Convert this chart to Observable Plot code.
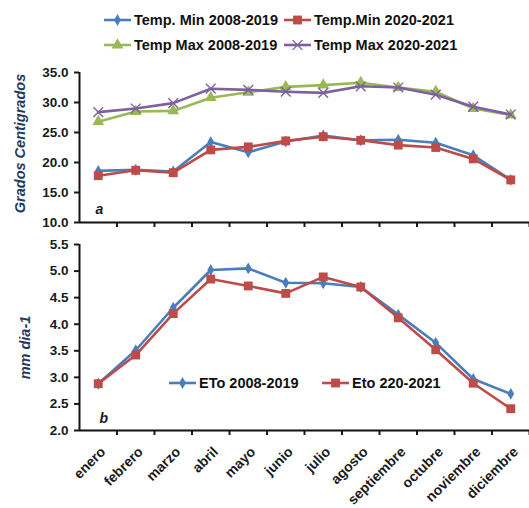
<!DOCTYPE html>
<html><head><meta charset="utf-8">
<script src="https://cdn.jsdelivr.net/npm/d3@7"></script>
<script src="https://cdn.jsdelivr.net/npm/@observablehq/plot@0.6"></script>
<style>
body{margin:0;background:#fff;font-family:"Liberation Sans",Arial,sans-serif;}
#wrap{position:relative;width:529px;height:508px;overflow:hidden;background:#fff}
.abs{position:absolute;left:0}
.leg{position:absolute;display:flex;align-items:center;font-weight:bold;font-size:14.5px;color:#111;white-space:nowrap}
.leg svg{margin-right:3px}
</style></head><body><div id="wrap"></div>
<script>
const months = ["enero","febrero","marzo","abril","mayo","junio","julio","agosto","septiembre","octubre","noviembre","diciembre"];
const tMin0819 = [18.6, 18.8, 18.5, 23.4, 21.7, 23.5, 24.5, 23.7, 23.8, 23.3, 21.2, 17.1];
const tMin2021 = [17.8, 18.7, 18.3, 22.1, 22.6, 23.6, 24.3, 23.7, 22.9, 22.5, 20.6, 17.1];
const tMax0819 = [26.8, 28.5, 28.6, 30.8, 31.7, 32.6, 32.9, 33.3, 32.5, 31.8, 29.0, 27.9];
const tMax2021 = [28.4, 29.0, 29.9, 32.3, 32.1, 31.8, 31.6, 32.7, 32.5, 31.3, 29.3, 28.0];
const eto0819 = [2.88, 3.51, 4.31, 5.02, 5.05, 4.78, 4.77, 4.70, 4.18, 3.65, 2.97, 2.69];
const eto2021 = [2.88, 3.42, 4.20, 4.85, 4.72, 4.58, 4.89, 4.70, 4.12, 3.52, 2.89, 2.41];
const tempTicks = [10, 15, 20, 25, 30, 35];
const etoTicks = [2.0, 2.5, 3.0, 3.5, 4.0, 4.5, 5.0, 5.5];

const COL = {blue:"#4a7ebb", red:"#be4b48", green:"#98b954", purple:"#7d60a0"};
const topSeries = [
  {name:"Temp. Min 2008-2019", values:tMin0819, color:COL.blue, symbol:"diamond", r:3.6, fill:true},
  {name:"Temp.Min 2020-2021", values:tMin2021, color:COL.red, symbol:"square", r:5, fill:true},
  {name:"Temp Max 2008-2019", values:tMax0819, color:COL.green, symbol:"triangle", r:4.4, fill:true},
  {name:"Temp Max 2020-2021", values:tMax2021, color:COL.purple, symbol:"times", r:4.5, fill:false}
];
const botSeries = [
  {name:"ETo 2008-2019", values:eto0819, color:COL.blue, symbol:"diamond", r:3.6, fill:true},
  {name:"Eto 220-2021", values:eto2021, color:COL.red, symbol:"square", r:5, fill:true}
];
const rows = s => s.values.map((v, i) => ({i: i + 0.5, v, month: months[i], series: s.name}));

function seriesMarks(list) {
  const out = [];
  for (const s of list) {
    const d = rows(s);
    out.push(Plot.line(d, {x:"i", y:"v", stroke:s.color, strokeWidth:2.6}));
    out.push(Plot.dot(d, s.fill
      ? {x:"i", y:"v", symbol:()=>s.symbol, r:s.r, fill:s.color, stroke:"none"}
      : {x:"i", y:"v", symbol:()=>s.symbol, r:s.r, stroke:s.color, strokeWidth:1.4, fill:"none"}));
  }
  return out;
}
const boundaries = d3.range(1, months.length + 1);
const centers = months.map((_, i) => i + 0.5);
const styleBase = {fontFamily:"'Liberation Sans', Arial, sans-serif", fontSize:"13.5px", fontWeight:"bold", color:"#1a1a1a", background:"#fff", overflow:"visible"};

const wrap = document.getElementById("wrap");

const p1 = Plot.plot({
  width: 529, height: 175,
  marginTop: 17, marginBottom: 8, marginLeft: 79, marginRight: 0,
  style: styleBase,
  x: {type:"linear", domain:[0, months.length]},
  y: {domain:[10, 35]},
  marks: [
    Plot.axisY({ticks: tempTicks, tickFormat: d => d.toFixed(1), tickSize: 5, tickPadding: 6, label: null, strokeWidth: 2}),
    Plot.axisX({ticks: boundaries, tickFormat: () => "", tickSize: 5, label: null, strokeWidth: 2}),
    Plot.ruleX([0], {stroke:"#111", strokeWidth:2}),
    Plot.ruleY([10], {stroke:"#111", strokeWidth:2}),
    ...seriesMarks(topSeries),
    Plot.text(["a"], {frameAnchor:"bottom-left", dx:16, dy:-9, fontStyle:"italic", fontSize:14, fill:"#1a1a1a"}),
    Plot.text(["Grados Centigrados"], {frameAnchor:"left", textAnchor:"middle", dx:-59, dy:-4, rotate:-90, fontStyle:"italic", fontSize:14.5, fill:"#1f3a5c"})
  ]
});
p1.classList.add("abs"); p1.style.top = "55px";
wrap.appendChild(p1);

const p2 = Plot.plot({
  width: 529, height: 276,
  marginTop: 12, marginBottom: 78, marginLeft: 79, marginRight: 0,
  style: styleBase,
  x: {type:"linear", domain:[0, months.length]},
  y: {domain:[2, 5.5]},
  marks: [
    Plot.axisY({ticks: etoTicks, tickFormat: d => d.toFixed(1), tickSize: 5, tickPadding: 6, label: null, strokeWidth: 2}),
    Plot.axisX({ticks: boundaries, tickFormat: () => "", tickSize: 5, label: null, strokeWidth: 2}),
    Plot.axisX({ticks: centers, tickFormat: d => months[Math.round(d - 0.5)], tickSize: 0, tickPadding: 19, tickRotate: -45, dx: 5, fontSize: 14, label: null}),
    Plot.ruleX([0], {stroke:"#111", strokeWidth:2}),
    Plot.ruleY([2], {stroke:"#111", strokeWidth:2}),
    ...seriesMarks(botSeries),
    Plot.text(["b"], {frameAnchor:"bottom-left", dx:20, dy:-8, fontStyle:"italic", fontSize:14, fill:"#1a1a1a"}),
    Plot.text(["mm dia-1"], {frameAnchor:"left", textAnchor:"middle", dx:-54, dy:10, rotate:-90, fontStyle:"italic", fontSize:14.5, fill:"#1f3a5c"})
  ]
});
p2.classList.add("abs"); p2.style.top = "232px";
wrap.appendChild(p2);

function swatch(s) {
  const w = 27, h = 14, cx = w / 2, cy = h / 2;
  const sym = d3.symbol().type({diamond:d3.symbolDiamond, square:d3.symbolSquare, triangle:d3.symbolTriangle, times:d3.symbolTimes}[s.symbol]).size(Math.PI * s.r * s.r)();
  const mk = s.fill
    ? `<path d="${sym}" transform="translate(${cx},${cy})" fill="${s.color}"/>`
    : `<path d="${sym}" transform="translate(${cx},${cy})" fill="none" stroke="${s.color}" stroke-width="1.4"/>`;
  return `<svg width="${w}" height="${h}"><line x1="0" x2="${w}" y1="${cy}" y2="${cy}" stroke="${s.color}" stroke-width="2.6"/>${mk}</svg>`;
}
function legendItem(s, left, top) {
  const el = document.createElement("div");
  el.className = "leg";
  el.style.left = left + "px"; el.style.top = top + "px";
  el.innerHTML = swatch(s) + `<span>${s.name}</span>`;
  wrap.appendChild(el);
}
legendItem(topSeries[0], 104, 12);
legendItem(topSeries[1], 284, 12);
legendItem(topSeries[2], 104, 37);
legendItem(topSeries[3], 284, 37);
legendItem(botSeries[0], 169, 375);
legendItem(botSeries[1], 322, 375);
</script></body></html>
